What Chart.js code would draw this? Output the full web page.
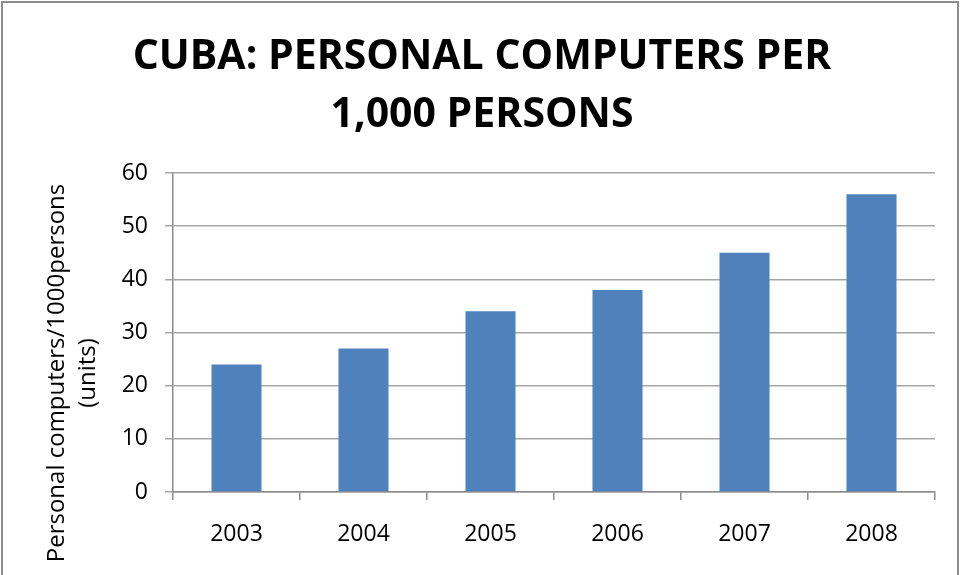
<!DOCTYPE html>
<html>
<head>
<meta charset="utf-8">
<script src="https://cdn.jsdelivr.net/npm/chart.js@4/dist/chart.umd.min.js"></script>
<style>
  html, body { margin: 0; padding: 0; background: #fff; }
  #wrap { width: 964px; height: 575px; position: relative; }
</style>
</head>
<body>
<div id="wrap"><canvas id="chart"></canvas></div>
<script>
// data
const years = ['2003', '2004', '2005', '2006', '2007', '2008'];
const pcPer1000 = [24, 27, 34, 38, 45, 56];
const yTicks = [0, 10, 20, 30, 40, 50, 60];

const titleLines = ['CUBA: PERSONAL COMPUTERS PER', '1,000 PERSONS'];
const yTitleLines = ['Personal computers/1000persons', '(units)'];

const FONT = "'Open Sans', sans-serif";
Chart.defaults.color = '#000';

// frame round the chart and the y axis title (offset like the original)
const extras = {
  id: 'extras',
  afterDraw(chart) {
    const ctx = chart.ctx;
    ctx.save();
    ctx.strokeStyle = '#8c8c8c';
    ctx.lineWidth = 2;
    ctx.strokeRect(2, 2, 956, 600);
    ctx.translate(0, 373);
    ctx.rotate(-Math.PI / 2);
    ctx.fillStyle = '#000';
    ctx.font = '24px ' + FONT;
    ctx.textAlign = 'center';
    ctx.textBaseline = 'middle';
    ctx.fillText(yTitleLines[0], 0, 57);
    ctx.fillText(yTitleLines[1], 0, 88);
    ctx.restore();
  }
};

const ctx = document.getElementById('chart').getContext('2d');
new Chart(ctx, {
  type: 'bar',
  data: {
    labels: years,
    datasets: [{
      data: pcPer1000,
      backgroundColor: '#4F81BD',
      barPercentage: 0.394,
      categoryPercentage: 1
    }]
  },
  options: {
    responsive: true,
    maintainAspectRatio: false,
    animation: false,
    layout: { padding: 0 },
    plugins: {
      legend: { display: false },
      tooltip: { enabled: false },
      title: {
        display: true,
        text: titleLines,
        color: '#000',
        font: { family: FONT, size: 41, weight: 'bold', lineHeight: 1.427 },
        padding: { top: 28, bottom: 28 }
      }
    },
    scales: {
      x: {
        grid: {
          offset: true,
          drawOnChartArea: false,
          tickLength: 8,
          color: '#8c8c8c',
          lineWidth: 1.5
        },
        border: { color: '#8c8c8c', width: 1.5 },
        ticks: { font: { family: FONT, size: 23 }, padding: 21, color: '#000' },
        afterFit(scale) { scale.height = 83; }
      },
      y: {
        min: 0,
        max: 60,
        afterBuildTicks(scale) { scale.ticks = yTicks.map(v => ({ value: v })); },
        grid: { color: '#a6a6a6', lineWidth: 1.5, tickLength: 8 },
        border: { color: '#8c8c8c', width: 1.5 },
        ticks: { font: { family: FONT, size: 23 }, padding: 17, color: '#000' },
        afterFit(scale) { scale.width = 173; }
      },
      // empty right-hand space so the title stays centred on the whole canvas
      yRight: {
        position: 'right',
        grid: { display: false },
        border: { display: false },
        ticks: { display: false },
        afterFit(scale) { scale.width = 29; }
      }
    }
  },
  plugins: [extras]
});
</script>
</body>
</html>
